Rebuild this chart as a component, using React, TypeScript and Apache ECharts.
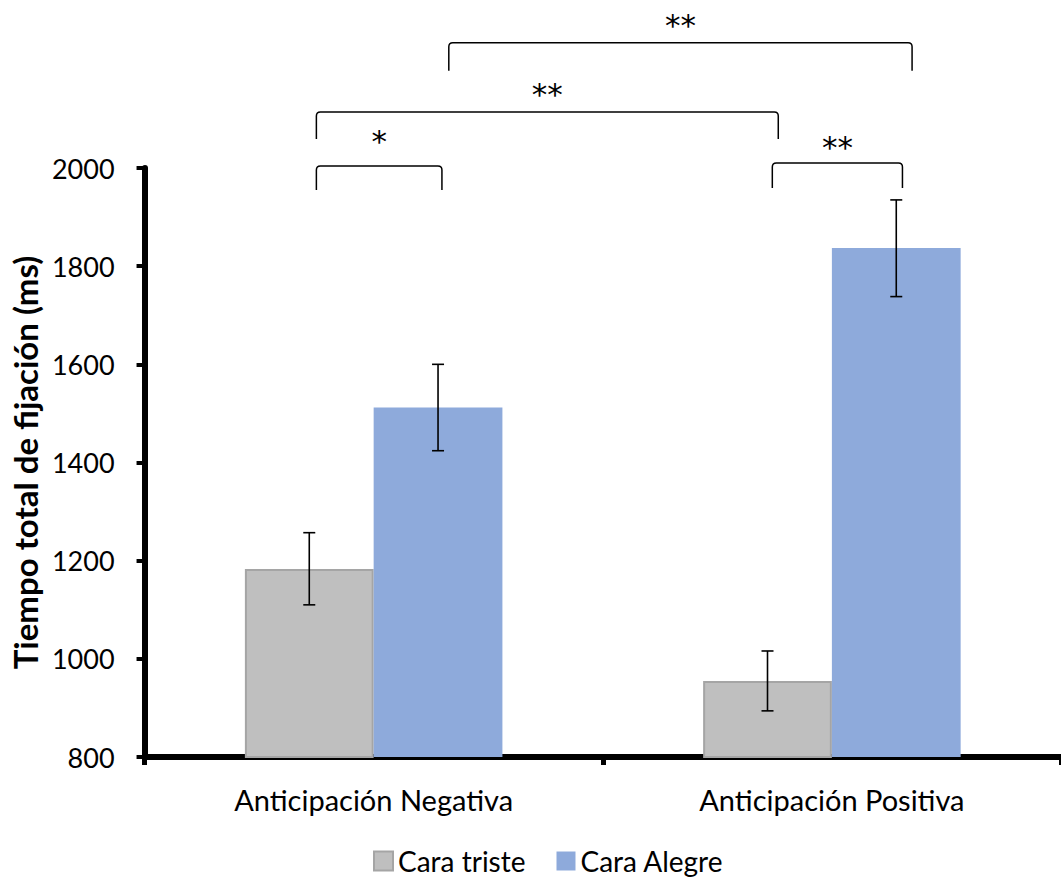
import React, { useEffect, useRef } from "react";
import * as echarts from "echarts";

const categories = ["Anticipación Negativa", "Anticipación Positiva"];
const seriesNames = ["Cara triste", "Cara Alegre"];
const sadValues = [1183, 955];
const happyValues = [1512, 1837];
const sadErrLow = [1110, 894];
const sadErrHigh = [1257, 1016];
const happyErrLow = [1424, 1738];
const happyErrHigh = [1600, 1935];
const yTicks = { min: 800, max: 2000, interval: 200 };

// Significance brackets: [fromCategory, fromOffset], [toCategory, toOffset], leg value, top value, label value
const bracketFrom = [[0, -0.125], [0, -0.125], [0, 0.164], [1, -0.13]];
const bracketTo = [[0, 0.149], [1, -0.117], [1, 0.175], [1, 0.154]];
const bracketLeg = [1955, 2059, 2198, 1959];
const bracketTop = [2004, 2114, 2255, 2010];
const bracketLabelValue = [2062, 2157, 2298, 2049];
const bracketLabels = ["*", "**", "**", "**"];

const FONT = "Lato, 'Open Sans', sans-serif";
const BAR_FRAC = 0.281;
const STAR_SHIFT = 3;

export default function App() {
  const ref = useRef<HTMLDivElement>(null);
  useEffect(() => {
    if (!ref.current) return;
    const chart = echarts.init(ref.current, undefined, { renderer: "svg" });

    const errData = (lo: number[], hi: number[]) => lo.map((l, i) => [i, l, hi[i]]);
    const errRender = (side: number) => (params: any, api: any) => {
      const cat = api.value(0);
      const lo = api.value(1);
      const hi = api.value(2);
      const band = api.size([1, 0])[0];
      const bw = band * BAR_FRAC;
      const pLo = api.coord([cat, lo]);
      const pHi = api.coord([cat, hi]);
      const x = pLo[0] + (side * bw) / 2;
      const cap = 6;
      const st = { stroke: "#000", lineWidth: 1.6 };
      return {
        type: "group",
        children: [
          { type: "line", shape: { x1: x, y1: pLo[1], x2: x, y2: pHi[1] }, style: st },
          { type: "line", shape: { x1: x - cap, y1: pHi[1], x2: x + cap, y2: pHi[1] }, style: st },
          { type: "line", shape: { x1: x - cap, y1: pLo[1], x2: x + cap, y2: pLo[1] }, style: st },
        ],
      };
    };

    const bracketData = bracketFrom.map((f, i) => [
      f[0], f[1], bracketTo[i][0], bracketTo[i][1], bracketLeg[i], bracketTop[i], bracketLabelValue[i],
    ]);

    const bracketRender = (params: any, api: any) => {
      const band = api.size([1, 0])[0];
      const fc = api.value(0), fo = api.value(1), tc = api.value(2), to = api.value(3);
      const leg = api.value(4), top = api.value(5), lab = api.value(6);
      const x1 = api.coord([fc, top])[0] + fo * band;
      const x2 = api.coord([tc, top])[0] + to * band;
      const yTop = api.coord([fc, top])[1];
      const yLeg = api.coord([fc, leg])[1];
      const yLab = api.coord([fc, lab])[1];
      const r = 4;
      const d = `M ${x1} ${yLeg} L ${x1} ${yTop + r} Q ${x1} ${yTop} ${x1 + r} ${yTop} L ${x2 - r} ${yTop} Q ${x2} ${yTop} ${x2} ${yTop + r} L ${x2} ${yLeg}`;
      return {
        type: "group",
        children: [
          { type: "path", shape: { pathData: d }, style: { fill: "none", stroke: "#000", lineWidth: 1.5 } },
          {
            type: "text",
            x: (x1 + x2) / 2,
            y: yLab + STAR_SHIFT,
            style: {
              text: bracketLabels[params.dataIndex],
              fill: "#000",
              fontSize: 31,
              fontFamily: "'DejaVu Sans', sans-serif",
              align: "center",
              verticalAlign: "middle",
            },
          },
        ],
      };
    };

    chart.setOption({
      animation: false,
      backgroundColor: "#fff",
      grid: { left: 143, right: 0, top: 168, bottom: 122, containLabel: false },
      legend: {
        data: seriesNames,
        left: 368,
        top: 842,
        itemWidth: 19,
        itemHeight: 19,
        itemGap: 31,
        icon: "rect",
        textStyle: { fontSize: 28, fontFamily: FONT, color: "#000" },
      },
      xAxis: {
        type: "category",
        data: categories,
        axisLine: { lineStyle: { color: "#000", width: 6 } },
        axisTick: { show: true, length: 8, lineStyle: { color: "#000", width: 5 } },
        axisLabel: { fontSize: 29, fontFamily: FONT, color: "#000", margin: 28 },
      },
      yAxis: {
        type: "value",
        min: yTicks.min,
        max: yTicks.max,
        interval: yTicks.interval,
        name: "Tiempo total de fijación (ms)",
        nameLocation: "middle",
        nameRotate: 90,
        nameGap: 90,
        nameTextStyle: { fontSize: 33, fontWeight: "bold", fontFamily: FONT, color: "#000" },
        axisLine: { show: true, lineStyle: { color: "#000", width: 6 } },
        axisTick: { show: true, length: 8, lineStyle: { color: "#000", width: 4 } },
        axisLabel: {
          fontSize: 27,
          fontFamily: FONT,
          color: "#000",
          margin: 30,
          formatter: (v: number) => String(v),
        },
        splitLine: { show: false },
      },
      series: [
        {
          name: seriesNames[0],
          type: "bar",
          data: sadValues,
          barWidth: BAR_FRAC * 100 + "%",
          barGap: "0%",
          itemStyle: { color: "#BFBFBF", borderColor: "#A5A5A5", borderWidth: 2 },
          z: 2,
        },
        {
          name: seriesNames[1],
          type: "bar",
          data: happyValues,
          barWidth: BAR_FRAC * 100 + "%",
          barGap: "0%",
          itemStyle: { color: "#8EAADB" },
          z: 2,
        },
        {
          type: "custom",
          data: errData(sadErrLow, sadErrHigh),
          encode: { x: 0, y: [1, 2] },
          renderItem: errRender(-1),
          z: 5,
          silent: true,
        },
        {
          type: "custom",
          data: errData(happyErrLow, happyErrHigh),
          encode: { x: 0, y: [1, 2] },
          renderItem: errRender(1),
          z: 5,
          silent: true,
        },
        {
          type: "custom",
          data: bracketData,
          encode: { x: 0, y: 5 },
          renderItem: bracketRender,
          clip: false,
          z: 5,
          silent: true,
        },
      ],
    });
    return () => chart.dispose();
  }, []);
  return (
    <div
      ref={ref}
      style={{ position: "fixed", left: 0, top: 0, width: 1061, height: 879, background: "#fff" }}
    />
  );
}
